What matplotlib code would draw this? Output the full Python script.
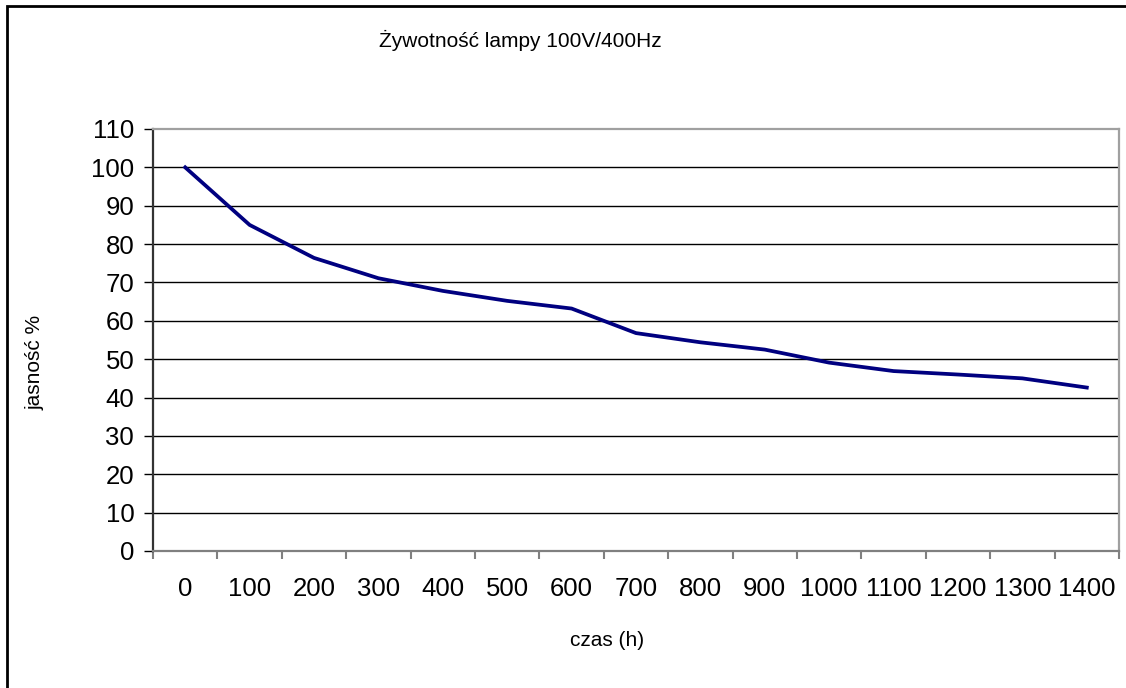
import matplotlib
matplotlib.use('Agg')
import matplotlib.pyplot as plt
from matplotlib.patches import Rectangle
import numpy as np

plt.rcParams['font.family'] = ['Liberation Sans', 'DejaVu Sans']

# data
czas = ['0', '100', '200', '300', '400', '500', '600', '700',
        '800', '900', '1000', '1100', '1200', '1300', '1400']
jasnosc = [100, 85, 76.4, 71.1, 67.8, 65.2, 63.2, 56.8,
           54.4, 52.5, 49.1, 46.9, 46.0, 45.0, 42.6]
y_ticks = list(range(0, 111, 10))

title = 'Żywotność lampy 100V/400Hz'
xlabel = 'czas (h)'
ylabel = 'jasność %'

###############################################################################

W, H = 1126, 688
fig = plt.figure(figsize=(W / 100, H / 100), dpi=100)
ax = fig.add_axes([153 / W, 1 - 551 / H, (1119 - 153) / W, (551 - 129) / H])

x = np.arange(len(czas))
ax.plot(x, jasnosc, color='#000080', lw=2.7, solid_joinstyle='round', zorder=3)

ax.set_xlim(-0.5, len(czas) - 0.5)
ax.set_ylim(0, 110)

# horizontal gridlines, Excel style
for v in y_ticks[:-1]:
    ax.axhline(v, color='black', lw=1.0, zorder=1)

ax.set_yticks(y_ticks)
ax.set_yticklabels([str(v) for v in y_ticks], fontsize=18.5)
ax.tick_params(axis='y', direction='out', length=6.5, width=1, color='black', pad=7)

ax.set_xticks(x)
ax.set_xticklabels(czas, fontsize=18.5)
ax.set_xticks(np.arange(-0.5, len(czas)), minor=True)
ax.tick_params(axis='x', which='major', length=0, pad=18.5)
ax.tick_params(axis='x', which='minor', direction='out', length=6, width=1.5, color='#808080')

ax.spines['left'].set_color('#333333')
ax.spines['left'].set_linewidth(1.6)
ax.spines['bottom'].set_color('#808080')
ax.spines['bottom'].set_linewidth(1.6)
ax.spines['top'].set_color('#a0a0a0')
ax.spines['top'].set_linewidth(1.6)
ax.spines['right'].set_color('#a0a0a0')
ax.spines['right'].set_linewidth(1.6)

fig.text(520 / W, 1 - 40 / H, title, fontsize=15, ha='center', va='center')
fig.text(607 / W, 1 - 640 / H, xlabel, fontsize=15, ha='center', va='center')
fig.text(35 / W, 1 - 362 / H, ylabel, fontsize=15, ha='center', va='center', rotation=90)

# chart area border (runs off the right/bottom of the picture)
fig.patches.append(Rectangle((7 / W, -0.05), 1.1, 1 - 6 / H + 0.05, transform=fig.transFigure,
                             fill=False, edgecolor='black', lw=2))

fig.savefig('out.png', dpi=100)
